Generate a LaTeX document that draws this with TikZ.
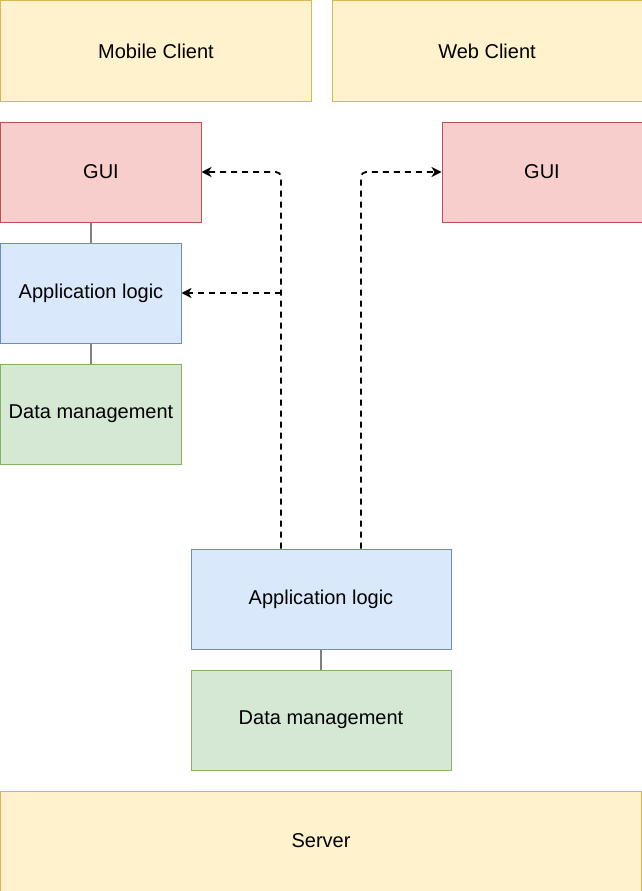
\documentclass[tikz,border=0pt]{standalone}
\usepackage{fontspec}
\setmainfont{Liberation Sans}
\usetikzlibrary{positioning,arrows.meta}
\definecolor{yfill}{HTML}{FFF2CC}\definecolor{ydraw}{HTML}{D6B656}
\definecolor{rfill}{HTML}{F8CECC}\definecolor{rdraw}{HTML}{B85450}
\definecolor{bfill}{HTML}{DAE8FC}\definecolor{bdraw}{HTML}{6C8EBF}
\definecolor{gfill}{HTML}{D5E8D4}\definecolor{gdraw}{HTML}{82B366}
\begin{document}
\begin{tikzpicture}[x=1pt, y=1pt, line width=1pt,
            main/.style = {draw, rectangle, minimum height=100pt, inner sep=0pt,
                           font=\fontsize{20}{24}\selectfont},
            client/.style = {main, fill=yfill, draw=ydraw},
            gui/.style = {main, fill=rfill, draw=rdraw, minimum width=200pt},
            logic/.style = {main, fill=bfill, draw=bdraw},
            data/.style = {main, fill=gfill, draw=gdraw},
            link/.style = {draw=gray, line width=1.5pt},
            call/.style = {line width=1.8pt, dash pattern=on 6pt off 5pt,
                           -{Stealth[length=10pt, width=10pt, inset=3pt]}, rounded corners=5pt}]

           \useasboundingbox (-1,1) rectangle (641,-890);

           \node[client, minimum width=310pt] (mc) at (155,-50) {Mobile Client};
           \node[client, minimum width=310pt] (wc) [right=20pt of mc] {Web Client};
           \node[gui] (mgui) [below right=20pt and 0pt of mc.south west] {GUI};
           \node[gui] (wgui) [below left=20pt and 0pt of wc.south east] {GUI};
           \node[logic, minimum width=180pt] (mlogic) [below right=20pt and 0pt of mgui.south west] {Application logic};
           \node[data, minimum width=180pt] (mdata) [below=20pt of mlogic] {Data management};

           \node[client, minimum width=640pt] (srv) at (320,-840) {Server};
           \node[data, minimum width=260pt] (sdata) [above=20pt of srv] {Data management};
           \node[logic, minimum width=260pt] (slogic) [above=20pt of sdata] {Application logic};

            %collegamenti fra i livelli
            \draw[link] (mlogic.north) -- (mlogic.north |- mgui.south);
            \draw[link] (mlogic) -- (mdata);
            \draw[link] (slogic) -- (sdata);

            %chiamate dal server
            \coordinate (s1) at ([xshift=-40pt]slogic.north);
            \coordinate (s2) at ([xshift=40pt]slogic.north);
            \draw[call] (s1) |- (mgui.east);
            \draw[call] (s1 |- mlogic.east) -- (mlogic.east);
            \draw[call] (s2) |- (wgui.west);
        \end{tikzpicture}
\end{document}
